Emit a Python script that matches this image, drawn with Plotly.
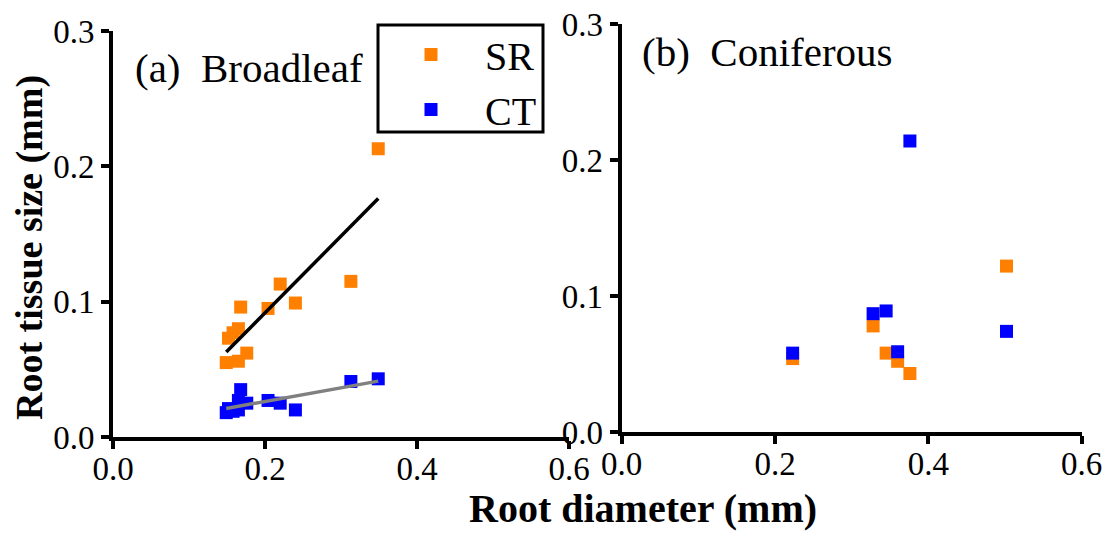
import numpy as np
import plotly.graph_objects as go

# ---- data ----
broad_diam = [0.349, 0.313, 0.240, 0.220, 0.204, 0.176, 0.168, 0.165, 0.165, 0.158, 0.152, 0.149]
broad_sr   = [0.213, 0.115, 0.099, 0.113, 0.095, 0.062, 0.096, 0.080, 0.056, 0.077, 0.073, 0.055]
broad_ct   = [0.043, 0.041, 0.020, 0.025, 0.027, 0.025, 0.035, 0.027, 0.020, 0.019, 0.021, 0.018]

conif_diam = [0.223, 0.328, 0.345, 0.360, 0.376, 0.502]
conif_sr   = [0.054, 0.078, 0.058, 0.052, 0.043, 0.122]
conif_ct   = [0.058, 0.087, 0.089, 0.059, 0.214, 0.074]

x_ticks = [0.0, 0.2, 0.4, 0.6]
x_labels = ["0.0", "0.2", "0.4", "0.6"]
y_ticks = [0.0, 0.1, 0.2, 0.3]
y_labels = ["0.0", "0.1", "0.2", "0.3"]

ORANGE = "rgb(255,128,0)"
BLUE = "rgb(0,0,255)"
FONT = "Liberation Serif"

# page has an 8px body margin: figure is drawn 8px in from the window corner
OFF = 8
W, H = 1112 - OFF, 536 - OFF
T, B = 12, 99
PH = H - T - B  # plot-area height in px


def px_x(px):
    """window pixel x -> paper fraction"""
    return (px - OFF) / W


def px_y(py):
    """window pixel y -> paper fraction"""
    return (H - B - (py - OFF)) / PH


fig = go.Figure()


def fit_line(x, y):
    x = np.asarray(x); y = np.asarray(y)
    b, a = np.polyfit(x, y, 1)
    xs = np.array([x.min(), x.max()])
    return xs, a + b * xs


mk = dict(symbol="square", size=13)

# Broadleaf
fig.add_trace(go.Scatter(x=broad_diam, y=broad_sr, mode="markers", name="SR",
                         marker=dict(color=ORANGE, **mk), xaxis="x", yaxis="y"))
fig.add_trace(go.Scatter(x=broad_diam, y=broad_ct, mode="markers", name="CT",
                         marker=dict(color=BLUE, **mk), xaxis="x", yaxis="y"))
lx, ly = fit_line(broad_diam, broad_sr)
fig.add_trace(go.Scatter(x=lx, y=ly, mode="lines", line=dict(color="black", width=3.5),
                         showlegend=False, xaxis="x", yaxis="y"))
lx, ly = fit_line(broad_diam, broad_ct)
fig.add_trace(go.Scatter(x=lx, y=ly, mode="lines", line=dict(color="rgb(128,128,128)", width=3.5),
                         showlegend=False, xaxis="x", yaxis="y"))

# Coniferous
fig.add_trace(go.Scatter(x=conif_diam, y=conif_sr, mode="markers", name="SR",
                         marker=dict(color=ORANGE, **mk), showlegend=False, xaxis="x2", yaxis="y2"))
fig.add_trace(go.Scatter(x=conif_diam, y=conif_ct, mode="markers", name="CT",
                         marker=dict(color=BLUE, **mk), showlegend=False, xaxis="x2", yaxis="y2"))

axis_common = dict(showgrid=False, zeroline=False, showline=True, linecolor="black", linewidth=4,
                   ticks="outside", tickwidth=4, ticklen=8, tickcolor="black", automargin=False,
                   ticklabeloverflow="allow",
                   tickfont=dict(family=FONT, size=33, color="black"))
xaxis_extra = dict(ticklabelstandoff=-9)

fig.update_layout(
    template="none",
    width=W, height=H,
    margin=dict(l=0, r=0, t=T, b=B, autoexpand=False),
    plot_bgcolor="white", paper_bgcolor="white",
    xaxis=dict(domain=[px_x(113), px_x(569)], range=[0, 0.6], tickvals=x_ticks,
               ticktext=x_labels, anchor="y", **axis_common, **xaxis_extra),
    yaxis=dict(domain=[px_y(437), px_y(31)], range=[0, 0.3], tickvals=y_ticks,
               ticktext=y_labels, anchor="x", **axis_common),
    xaxis2=dict(domain=[px_x(621.7), px_x(1081.6)], range=[0, 0.6], tickvals=x_ticks,
                ticktext=x_labels, anchor="y2", **axis_common, **xaxis_extra),
    yaxis2=dict(domain=[px_y(432), px_y(24)], range=[0, 0.3], tickvals=y_ticks,
                ticktext=y_labels, anchor="x2", **axis_common),
    showlegend=True,
    legend=dict(x=px_x(377), y=px_y(22), xref="paper", yref="paper", xanchor="left", yanchor="top",
                borderwidth=0, bgcolor="rgba(0,0,0,0)",
                font=dict(family=FONT, size=40, color="black"), itemwidth=98,
                tracegroupgap=0),
)

# legend frame
fig.add_shape(type="rect", xref="paper", yref="paper",
              x0=px_x(378), x1=px_x(543), y0=px_y(132), y1=px_y(25),
              line=dict(color="black", width=3), fillcolor="white", layer="below")

fig.add_annotation(text="(a)  Broadleaf", x=px_x(133), y=px_y(68), xref="paper", yref="paper",
                   xanchor="left", yanchor="middle", showarrow=False,
                   font=dict(family=FONT, size=41, color="black"))
fig.add_annotation(text="(b)  Coniferous", x=px_x(640), y=px_y(52), xref="paper", yref="paper",
                   xanchor="left", yanchor="middle", showarrow=False,
                   font=dict(family=FONT, size=41, color="black"))
fig.add_annotation(text="<b>Root tissue size (mm)</b>", x=px_x(30), y=px_y(248), xref="paper", yref="paper",
                   xanchor="center", yanchor="middle", showarrow=False, textangle=-90,
                   font=dict(family=FONT, size=38, color="black"))
fig.add_annotation(text="<b>Root diameter (mm)</b>", x=px_x(643), y=px_y(508), xref="paper", yref="paper",
                   xanchor="center", yanchor="middle", showarrow=False,
                   font=dict(family=FONT, size=40, color="black"))

fig.write_html("out.html")
